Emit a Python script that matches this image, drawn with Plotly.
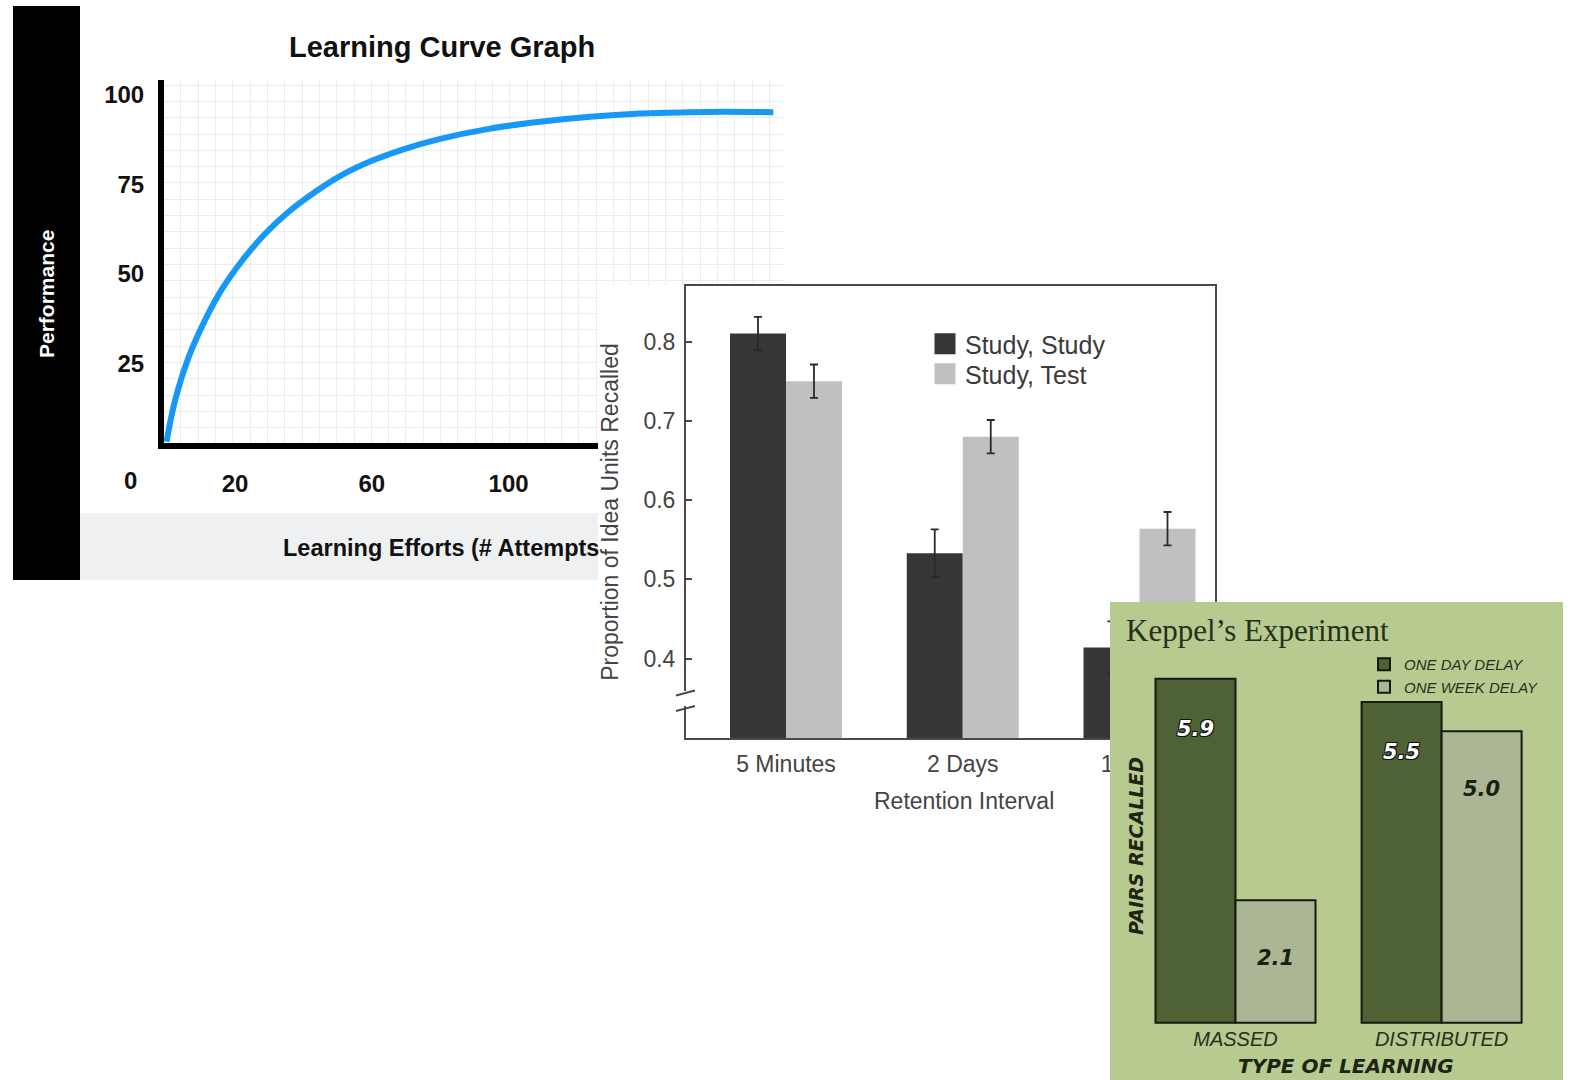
import plotly.graph_objects as go

# ---------------- data ----------------
# Panel 1: learning curve
CURVE_ATTEMPTS = [0, 2.5, 6.4, 11.2, 16.1, 22.0, 28.8, 35.6, 43.4, 51.2, 60.0,
                  69.7, 79.4, 94.6, 109.2, 123.8, 138.4, 153.0, 162.8, 177.4]
CURVE_PERFORMANCE = [3.1, 14.7, 26.6, 37.0, 45.6, 53.6, 61.2, 67.3, 72.9, 77.6, 81.6,
                     84.95, 87.6, 90.6, 92.5, 93.9, 94.8, 95.2, 95.3, 95.2]
CURVE_XTICKS = [20, 60, 100]
CURVE_YTICKS = [25, 50, 75, 100]

# Panel 2: retention interval
RETENTION = ["5 Minutes", "2 Days", "1 Week"]
SERIES_2 = ["Study, Study", "Study, Test"]
STUDY_STUDY = [0.81, 0.533, 0.414]
STUDY_STUDY_ERR = [0.021, 0.030, 0.033]
STUDY_TEST = [0.75, 0.68, 0.564]
STUDY_TEST_ERR = [0.021, 0.021, 0.021]
PROP_TICKS = [0.4, 0.5, 0.6, 0.7, 0.8]

# Panel 3: Keppel's experiment
LEARNING_TYPE = ["MASSED", "DISTRIBUTED"]
SERIES_3 = ["ONE DAY DELAY", "ONE WEEK DELAY"]
ONE_DAY = [5.9, 5.5]
ONE_WEEK = [2.1, 5.0]

# ---------------- layout helpers ----------------
W, H = 1575, 1080


def fx(px):
    return px / W


def fy(py):
    return 1 - py / H


SANS = "Liberation Sans, Arial, Helvetica, sans-serif"
SERIF = "Liberation Serif, Times New Roman, serif"
WIDE = "DejaVu Sans, Verdana, sans-serif"

# panel 1 geometry (pixels)
P1 = dict(left=164, right=785, top=80, bottom=443)
X1_ZERO, X1_PX = 166.6, 3.42
Y1_ZERO, Y1_PX = 452.7, 3.577
x1_range = [(P1["left"] - X1_ZERO) / X1_PX, (P1["right"] - X1_ZERO) / X1_PX]
y1_range = [(Y1_ZERO - P1["bottom"]) / Y1_PX, (Y1_ZERO - P1["top"]) / Y1_PX]

# panel 2 geometry
P2BG = dict(left=598, right=1230, top=285, bottom=830)
P2 = dict(left=686, right=1215, top=286, bottom=738)
X2_C0, X2_STEP = 786.0, 176.75
x2_range = [(P2["left"] - X2_C0) / X2_STEP, (P2["right"] - X2_C0) / X2_STEP]
y2_range = [0.30, 0.87]
BW2 = 56 / X2_STEP
DARK2, LIGHT2 = "#363636", "#c0c0c0"

# panel 3 geometry
P3 = dict(left=1110, right=1563, top=602, bottom=1080)
X3_C0, X3_STEP = 1235.5, 206.1
Y3_BASE, Y3_PX = 1022.7, 58.3
x3_range = [(P3["left"] - X3_C0) / X3_STEP, (P3["right"] - X3_C0) / X3_STEP]
y3_range = [(Y3_BASE - P3["bottom"]) / Y3_PX, (Y3_BASE - P3["top"]) / Y3_PX]
BW3 = 80 / X3_STEP
GREEN_BG = "#b7cb90"
DARK3, LIGHT3 = "#4f6235", "#aab694"
INK3 = "#27301d"

fig = go.Figure()

# ---- panel 1 trace
fig.add_trace(go.Scatter(
    x=CURVE_ATTEMPTS, y=CURVE_PERFORMANCE, mode="lines",
    line=dict(color="#1598f6", width=6, shape="spline", smoothing=1.0),
    xaxis="x", yaxis="y", showlegend=False, hoverinfo="skip"))

# ---- panel 2 legend entries (on the white backing subplot), one legend box per row
for name, col, lg in zip(SERIES_2, [DARK2, LIGHT2], ["legend", "legend3"]):
    fig.add_trace(go.Scatter(
        x=[None], y=[None], mode="markers", name=name,
        marker=dict(symbol="square", size=16, color=col, line=dict(color=col, width=5)),
        xaxis="x2", yaxis="y2", legend=lg, showlegend=True))

# ---- panel 2 bars
fig.add_trace(go.Bar(
    x=RETENTION, y=STUDY_STUDY, name=SERIES_2[0], showlegend=False,
    marker=dict(color=DARK2, line=dict(width=0)), offset=-BW2, width=BW2,
    error_y=dict(type="data", array=STUDY_STUDY_ERR, color="#2a2a2a", thickness=1.8, width=4),
    xaxis="x3", yaxis="y3"))
fig.add_trace(go.Bar(
    x=RETENTION, y=STUDY_TEST, name=SERIES_2[1], showlegend=False,
    marker=dict(color=LIGHT2, line=dict(width=0)), offset=0, width=BW2,
    error_y=dict(type="data", array=STUDY_TEST_ERR, color="#2a2a2a", thickness=1.8, width=4),
    xaxis="x3", yaxis="y3"))

# ---- panel 3 bars
fig.add_trace(go.Bar(
    x=LEARNING_TYPE, y=ONE_DAY, name=SERIES_3[0], legend="legend2",
    marker=dict(color=DARK3, line=dict(color="#151b0f", width=2)), offset=-BW3, width=BW3,
    xaxis="x4", yaxis="y4"))
fig.add_trace(go.Bar(
    x=LEARNING_TYPE, y=ONE_WEEK, name=SERIES_3[1], legend="legend2",
    marker=dict(color=LIGHT3, line=dict(color="#151b0f", width=2)), offset=0, width=BW3,
    xaxis="x4", yaxis="y4"))

# ---------------- shapes ----------------
shapes = [
    # black side band of panel 1
    dict(type="rect", xref="paper", yref="paper", x0=fx(13), x1=fx(80), y0=fy(580), y1=fy(6),
         fillcolor="black", line=dict(width=0), layer="below"),
    # grey footer band of panel 1
    dict(type="rect", xref="paper", yref="paper", x0=fx(80), x1=fx(598), y0=fy(580), y1=fy(513),
         fillcolor="#eff0f2", line=dict(width=0), layer="below"),
    # green card of panel 3 (clipped to its subplot)
    dict(type="rect", xref="x4", yref="y4", x0=-5, x1=5, y0=-50, y1=50,
         fillcolor=GREEN_BG, line=dict(width=0), layer="below"),
    # axis break on panel 2
    dict(type="rect", xref="paper", yref="paper", x0=fx(682), x1=fx(691), y0=fy(706), y1=fy(691),
         fillcolor="white", line=dict(width=0), layer="above"),
    dict(type="line", xref="paper", yref="paper", x0=fx(676), y0=fy(695.5), x1=fx(695), y1=fy(690.5),
         line=dict(color="#4a4a4a", width=2), layer="above"),
    dict(type="line", xref="paper", yref="paper", x0=fx(676), y0=fy(711), x1=fx(695), y1=fy(706),
         line=dict(color="#4a4a4a", width=2), layer="above"),
]

# ---------------- annotations ----------------
ann = [
    dict(text="Learning Curve Graph", x=fx(442), y=fy(47), xref="paper", yref="paper",
         showarrow=False, xanchor="center", yanchor="middle",
         font=dict(family=SANS, size=29, color="#111", weight="bold")),
    dict(text="Performance", x=fx(47), y=fy(294), xref="paper", yref="paper", textangle=-90,
         showarrow=False, xanchor="center", yanchor="middle",
         font=dict(family=SANS, size=21, color="white", weight="bold")),
    dict(text="0", x=fx(130), y=fy(480), xref="paper", yref="paper",
         showarrow=False, xanchor="center", yanchor="middle",
         font=dict(family=SANS, size=24, color="#111", weight="bold")),
    dict(text="Learning Efforts (# Attempts", x=fx(281), y=fy(548), xref="paper", yref="paper",
         showarrow=False, xanchor="left", yanchor="middle",
         font=dict(family=SANS, size=23.5, color="#111", weight="bold")),
    dict(text="Retention Interval", x=fx(964), y=fy(801), xref="paper", yref="paper",
         showarrow=False, xanchor="center", yanchor="middle",
         font=dict(family=SANS, size=23, color="#444")),
    dict(text="Keppel’s Experiment", x=fx(1124), y=fy(630), xref="paper", yref="paper",
         showarrow=False, xanchor="left", yanchor="middle",
         font=dict(family=SERIF, size=31, color=INK3)),
    dict(text="PAIRS RECALLED", x=fx(1136), y=fy(846), xref="paper", yref="paper", textangle=-90,
         showarrow=False, xanchor="center", yanchor="middle",
         font=dict(family=WIDE, size=19, color="#1d2414", weight="bold", style="italic")),
    dict(text="TYPE OF LEARNING", x=fx(1346), y=fy(1066), xref="paper", yref="paper",
         showarrow=False, xanchor="center", yanchor="middle",
         font=dict(family=WIDE, size=20, color="#1d2414", weight="bold", style="italic")),
]
outline = "1px 1px 0 #111, -1px -1px 0 #111, 1px -1px 0 #111, -1px 1px 0 #111"
for i, v in enumerate(ONE_DAY):
    ann.append(dict(text=f"{v:.1f}", x=i - BW3 / 2, y=v, xref="x4", yref="y4", yshift=-50,
                    showarrow=False, xanchor="center", yanchor="middle",
                    font=dict(family=WIDE, size=21, color="white", weight="bold",
                              style="italic", shadow=outline)))
for i, v in enumerate(ONE_WEEK):
    ann.append(dict(text=f"{v:.1f}", x=i + BW3 / 2, y=v, xref="x4", yref="y4", yshift=-58,
                    showarrow=False, xanchor="center", yanchor="middle",
                    font=dict(family=WIDE, size=21, color="#1a1f12", weight="bold",
                              style="italic")))

grid = "#ececec"
leg2_common = dict(xanchor="left", yanchor="top", bgcolor="rgba(0,0,0,0)", borderwidth=0,
                   font=dict(family=SANS, size=25, color="#3a3a3a"),
                   itemclick=False, itemdoubleclick=False)
fig.update_layout(
    width=W, height=H, margin=dict(l=0, r=0, t=0, b=0, pad=0),
    paper_bgcolor="white", plot_bgcolor="white",
    barmode="overlay", hovermode=False, showlegend=True,
    # panel 1
    xaxis=dict(domain=[fx(P1["left"]), fx(P1["right"])], range=x1_range, anchor="y",
               tickmode="array", tickvals=CURVE_XTICKS, ticktext=[str(t) for t in CURVE_XTICKS],
               showline=True, linewidth=6, linecolor="black", ticks="", showgrid=False,
               zeroline=False, ticklabelstandoff=14,
               tickfont=dict(family=SANS, size=24, color="#111", weight="bold"),
               minor=dict(showgrid=True, gridcolor=grid, gridwidth=1, tickmode="linear",
                          tick0=4.2, dtick=5.06, ticks="")),
    yaxis=dict(domain=[fy(P1["bottom"]), fy(P1["top"])], range=y1_range, anchor="x",
               tickmode="array", tickvals=CURVE_YTICKS, ticktext=[str(t) for t in CURVE_YTICKS],
               showline=True, linewidth=6, linecolor="black", ticks="", showgrid=False,
               zeroline=False, ticklabelstandoff=9,
               tickfont=dict(family=SANS, size=24, color="#111", weight="bold"),
               minor=dict(showgrid=True, gridcolor=grid, gridwidth=1, tickmode="linear",
                          tick0=93.65, dtick=4.56, ticks="")),
    # panel 2 white backing
    xaxis2=dict(domain=[fx(P2BG["left"]), fx(P2BG["right"])], range=[0, 1], anchor="y2",
                visible=False),
    yaxis2=dict(domain=[fy(P2BG["bottom"]), fy(P2BG["top"])], range=[0, 1], anchor="x2",
                visible=False),
    # panel 2 chart
    xaxis3=dict(domain=[fx(P2["left"]), fx(P2["right"])], range=x2_range, anchor="y3",
                type="category", categoryorder="array", categoryarray=RETENTION,
                showline=True, mirror=True, linecolor="#4a4a4a", linewidth=2, ticks="",
                showgrid=False, zeroline=False, ticklabelstandoff=4,
                tickfont=dict(family=SANS, size=23, color="#444")),
    yaxis3=dict(domain=[fy(P2["bottom"]), fy(P2["top"])], range=y2_range, anchor="x3",
                tickmode="array", tickvals=PROP_TICKS, ticktext=[f"{t:.1f}" for t in PROP_TICKS],
                showline=True, mirror=True, linecolor="#4a4a4a", linewidth=2,
                ticks="inside", ticklen=6, tickwidth=1.5, tickcolor="#4a4a4a",
                showgrid=False, zeroline=False, ticklabelstandoff=4,
                tickfont=dict(family=SANS, size=23, color="#444"),
                title=dict(text="Proportion of Idea Units Recalled", standoff=18,
                           font=dict(family=SANS, size=23, color="#444"))),
    # panel 3
    xaxis4=dict(domain=[fx(P3["left"]), fx(P3["right"])], range=x3_range, anchor="free",
                position=fy(Y3_BASE), type="category", categoryorder="array",
                categoryarray=LEARNING_TYPE, showline=False, ticks="", showgrid=False,
                zeroline=False, ticklabelstandoff=2,
                tickfont=dict(family=SANS, size=20, color=INK3, style="italic")),
    yaxis4=dict(domain=[fy(P3["bottom"]), fy(P3["top"])], range=y3_range, anchor="x4",
                visible=False, showgrid=False, zeroline=False),
    legend=dict(x=fx(925), y=fy(321), **leg2_common),
    legend3=dict(x=fx(925), y=fy(351), **leg2_common),
    legend2=dict(x=fx(1364), y=fy(648), xanchor="left", yanchor="top", bgcolor="rgba(0,0,0,0)",
                 borderwidth=0, font=dict(family=SANS, size=15, color=INK3, style="italic"),
                 itemclick=False, itemdoubleclick=False, tracegroupgap=0),
    shapes=shapes,
    annotations=ann,
)

fig.write_html("out.html", post_script="document.body.style.margin='0px';",
               config={"displayModeBar": False})
